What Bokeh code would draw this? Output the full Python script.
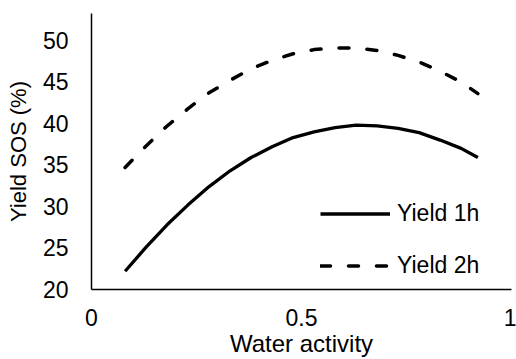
from bokeh.plotting import figure
from bokeh.models import FixedTicker, CustomJSTickFormatter, Range1d, Legend, LegendItem
from bokeh.embed import file_html
from bokeh.resources import INLINE

# Data
water_activity = [0.08, 0.13, 0.18, 0.23, 0.28, 0.33, 0.38, 0.43, 0.48, 0.53,
                  0.58, 0.63, 0.68, 0.73, 0.78, 0.83, 0.88, 0.92]
yield_1h = [22.2, 25.1, 27.8, 30.2, 32.4, 34.3, 35.9, 37.2, 38.3, 39.0,
            39.5, 39.8, 39.7, 39.4, 38.9, 38.0, 37.0, 35.9]
yield_2h = [34.7, 37.3, 39.7, 41.8, 43.7, 45.2, 46.6, 47.6, 48.4, 48.9,
            49.1, 49.1, 48.8, 48.2, 47.4, 46.3, 45.0, 43.6]
x_ticks = [0, 0.5, 1]
y_ticks = [20, 25, 30, 35, 40, 45, 50]
x_title = "Water activity"
y_title = "Yield SOS (%)"
series_names = ["Yield 1h", "Yield 2h"]

FONT = "Liberation Sans"

p = figure(width=516, height=359, output_backend="svg", toolbar_location=None,
           x_range=Range1d(0, 1), y_range=Range1d(20, 53.25),
           min_border_left=91, min_border_right=5, min_border_top=13,
           min_border_bottom=70)
p.outline_line_color = None
p.xgrid.visible = False
p.ygrid.visible = False
p.background_fill_color = "white"
p.border_fill_color = "white"

r1 = p.line(water_activity, yield_1h, line_color="black", line_width=3.3,
            line_join="round")
r2 = p.line(water_activity, yield_2h, line_color="black", line_width=3.5,
            line_dash="10 18", line_cap="round")

for ax in (p.xaxis[0], p.yaxis[0]):
    ax.axis_line_color = "black"
    ax.axis_line_width = 1.5
    ax.major_tick_line_color = None
    ax.minor_tick_line_color = None
    ax.major_label_text_font = FONT
    ax.major_label_text_font_size = "23px"
    ax.major_label_text_color = "black"
    ax.axis_label_text_font = FONT
    ax.axis_label_text_font_style = "normal"
    ax.axis_label_text_color = "black"

p.xaxis[0].ticker = FixedTicker(ticks=x_ticks)
p.xaxis[0].formatter = CustomJSTickFormatter(code="return tick.toString();")
p.xaxis[0].major_label_standoff = 13
p.xaxis[0].axis_label = x_title
p.xaxis[0].axis_label_text_font_size = "24px"
p.xaxis[0].axis_label_standoff = 1

p.yaxis[0].ticker = FixedTicker(ticks=y_ticks)
p.yaxis[0].formatter = CustomJSTickFormatter(code="return tick.toString();")
p.yaxis[0].major_label_standoff = 17
p.yaxis[0].axis_label = y_title
p.yaxis[0].axis_label_text_font_size = "22px"
p.yaxis[0].axis_label_standoff = 9

legend = Legend(items=[LegendItem(label=series_names[0], renderers=[r1]),
                       LegendItem(label=series_names[1], renderers=[r2])],
                location=(229, 10), orientation="vertical")
legend.glyph_width = 70
legend.glyph_height = 25
legend.label_height = 25
legend.label_standoff = 7
legend.spacing = 25
legend.padding = 0
legend.margin = 0
legend.border_line_color = None
legend.background_fill_alpha = 0
legend.label_text_font = FONT
legend.label_text_font_size = "23px"
legend.label_text_color = "black"
p.add_layout(legend, "center")

open("out.html", "w").write(file_html(p, INLINE))
